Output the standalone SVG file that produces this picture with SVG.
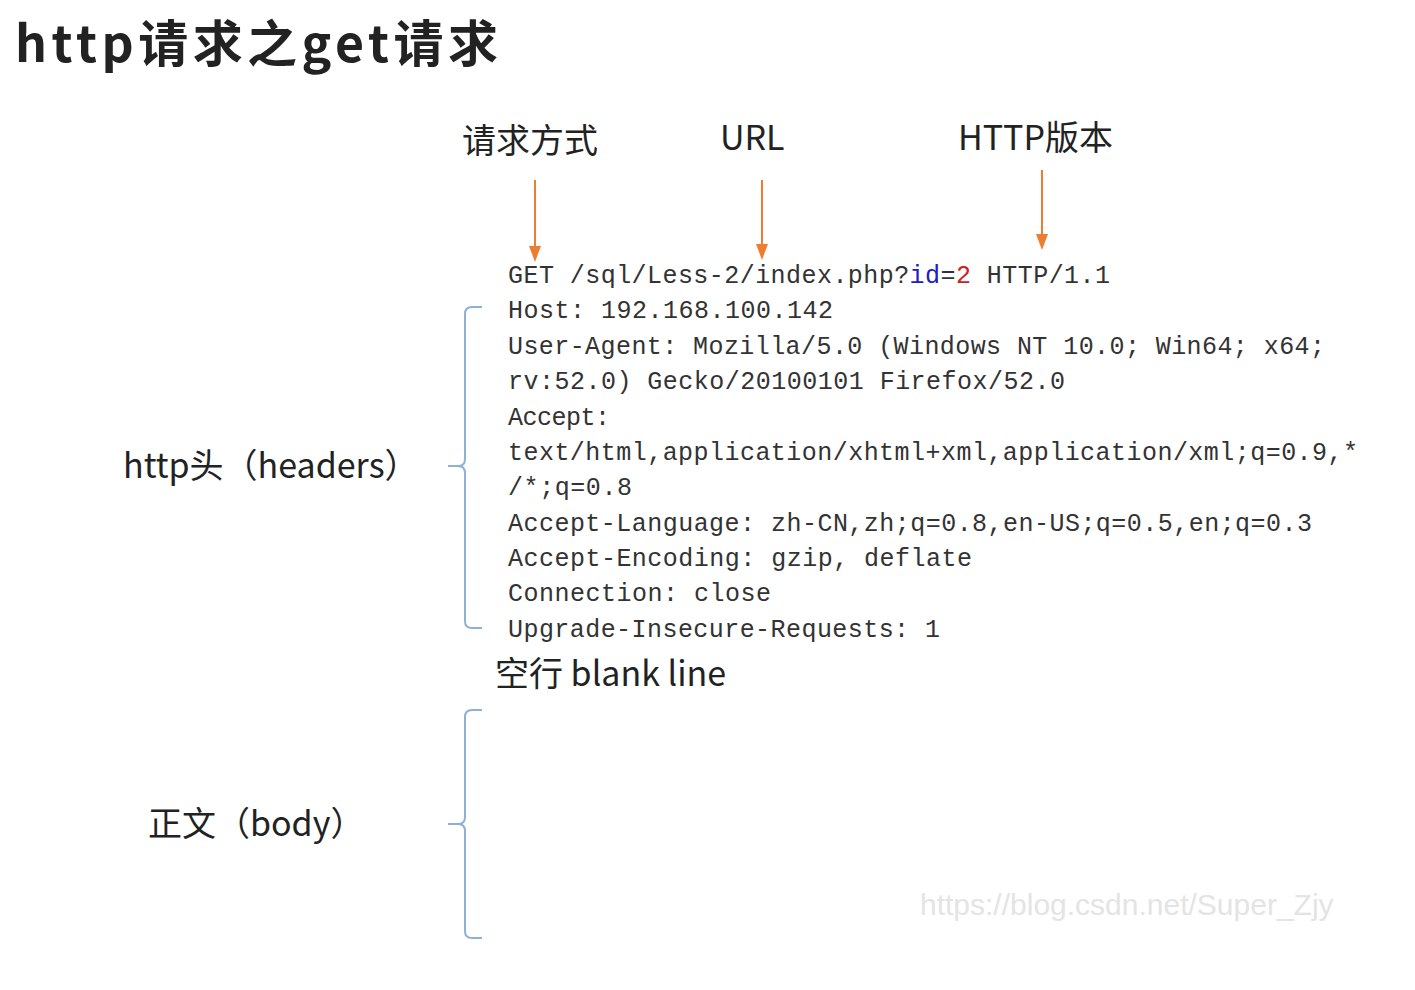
<svg xmlns="http://www.w3.org/2000/svg" width="1415" height="990" viewBox="0 0 1415 990">
<style>
.t{font-family:"Noto Sans CJK SC","Open Sans",sans-serif;fill:#222}
.m{font-family:"Liberation Mono","DejaVu Sans Mono",monospace;font-size:25px;fill:#333}
.ar{stroke:#ed7d31;stroke-width:2;fill:none}
.br{stroke:#8fb0d6;stroke-width:2;fill:none}
</style>
<defs><marker id="h" markerWidth="8" markerHeight="8" refX="4" refY="4" orient="auto"><path d="M0,1L8,4L0,7z" fill="#ed7d31"/></marker></defs>
<rect width="1415" height="990" fill="#fff"/>
<text class="t" x="15" y="62" font-size="50" font-weight="bold" fill="#333" textLength="483">http请求之get请求</text>
<g id="n1"><text class="t" x="462" y="153" font-size="34">请求方式</text></g>
<g id="n2"><text class="t" x="720" y="150" font-size="34">URL</text></g>
<g id="n3"><text class="t" x="958" y="150" font-size="34">HTTP版本</text></g>
<g id="connectors">
<line class="ar" x1="535" y1="180" x2="535" y2="254" marker-end="url(#h)"/>
<line class="ar" x1="762" y1="180" x2="762" y2="252" marker-end="url(#h)"/>
<line class="ar" x1="1042" y1="170" x2="1042" y2="242" marker-end="url(#h)"/>
<path class="br" d="M482,307H472Q465,307 465,314V459Q465,466 458,466H448M458,466Q465,466 465,473V621Q465,628 472,628H482"/>
<path class="br" d="M482,710H472Q465,710 465,717V817Q465,824 458,824H448M458,824Q465,824 465,831V931Q465,938 472,938H482"/>
</g>
<g id="req">
<text class="m" x="508" y="283" textLength="602">GET /sql/Less-2/index.php?<tspan fill="#2020c0">id</tspan>=<tspan fill="#d02020">2</tspan> HTTP/1.1</text>
<text class="m" x="508" y="318" textLength="325">Host: 192.168.100.142</text>
<text class="m" x="508" y="354" textLength="817">User-Agent: Mozilla/5.0 (Windows NT 10.0; Win64; x64;</text>
<text class="m" x="508" y="389" textLength="557">rv:52.0) Gecko/20100101 Firefox/52.0</text>
<text class="m" x="508" y="425" textLength="102">Accept:</text>
<text class="m" x="508" y="460" textLength="850">text/html,application/xhtml+xml,application/xml;q=0.9,*</text>
<text class="m" x="508" y="495" textLength="124">/*;q=0.8</text>
<text class="m" x="508" y="531" textLength="804">Accept-Language: zh-CN,zh;q=0.8,en-US;q=0.5,en;q=0.3</text>
<text class="m" x="508" y="566" textLength="464">Accept-Encoding: gzip, deflate</text>
<text class="m" x="508" y="601" textLength="263">Connection: close</text>
<text class="m" x="508" y="637" textLength="432">Upgrade-Insecure-Requests: 1</text>
</g>
<g id="n4"><text class="t" x="123" y="478" font-size="34">http头（headers）</text></g>
<g id="n5"><text class="t" x="495" y="686" font-size="34">空行 blank line</text></g>
<g id="n6"><text class="t" x="148" y="836" font-size="34">正文（body）</text></g>
<text x="920" y="915" font-family="Liberation Sans,sans-serif" font-size="30" fill="#e4e4e4">https://blog.csdn.net/Super_Zjy</text>
</svg>
